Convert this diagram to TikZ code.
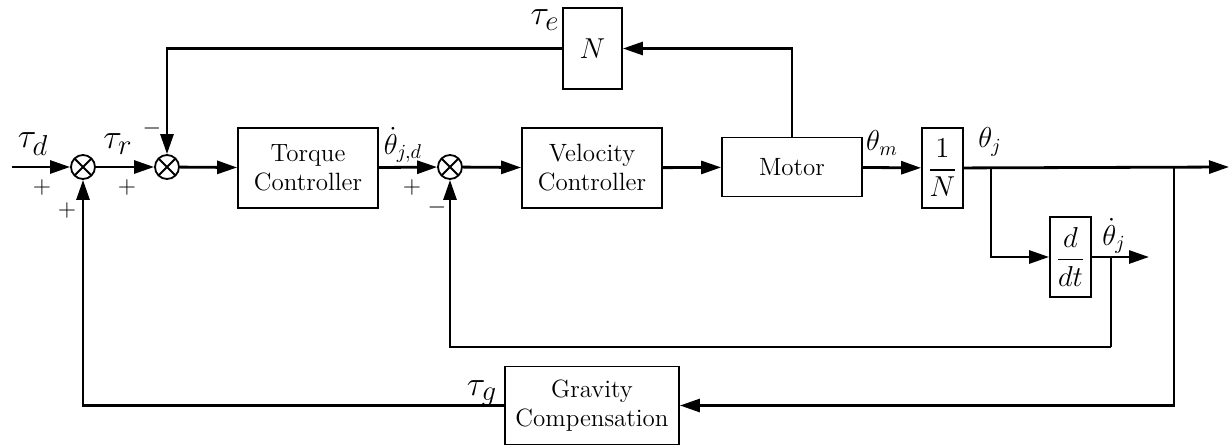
\documentclass[tikz,border=0pt]{standalone}
\usepackage{amsmath}
\usetikzlibrary{arrows.meta}

\tikzset{
  every node/.style={font=\fontsize{12.5}{14.5}\selectfont},
  block/.style={draw, line width=0.9pt, align=center, inner sep=0pt},
  mblock/.style={block, font=\fontsize{14.5}{16}\selectfont},
  sumnode/.style={draw, circle, line width=0.9pt, minimum size=12pt, inner sep=0pt,
    path picture={\draw[line width=0.9pt]
      (path picture bounding box.north west) -- (path picture bounding box.south east)
      (path picture bounding box.north east) -- (path picture bounding box.south west);}},
  sig/.style={line width=1.4pt, -{Triangle[length=10pt,width=6.5pt]}},
  wire/.style={line width=1.4pt},
  sgn/.style={inner sep=0pt, font=\fontsize{12}{14}\selectfont},
  tlbl/.style={inner sep=0pt, font=\fontsize{19}{21}\selectfont},
  hlbl/.style={inner sep=0pt, font=\fontsize{14}{16}\selectfont}
}

\begin{document}
\begin{tikzpicture}[x=0.5pt, y=-0.5pt]
  \useasboundingbox (0,0) rectangle (1231,445);

  % ===== forward path =====
  \coordinate (in) at (12,167);
  \node[sumnode] (s1) at (83,167) {};
  \node[sumnode] (s2) at (167,167) {};
  \node[block, minimum width=70pt, minimum height=40pt] (torque) at (308,168) {Torque\\Controller};
  \node[sumnode] (s3) at (450,167) {};
  \node[block, minimum width=70pt, minimum height=40pt] (vel) at (592,168) {Velocity\\Controller};
  \node[block, minimum width=70pt, minimum height=29.5pt] (motor) at (792,167) {Motor};
  \node[mblock, minimum width=20.5pt, minimum height=40pt] (gain) at (942.5,168) {$\dfrac{1}{N}$};
  \coordinate (out) at (1229,167);

  % ===== feedback blocks =====
  \node[mblock, minimum width=29.5pt, minimum height=40.5pt] (nblk) at (592.5,48.5) {$N$};
  \node[mblock, minimum width=20.5pt, minimum height=40pt] (ddt) at (1070.5,257) {$\dfrac{d}{dt}$};
  \node[block, minimum width=87pt, minimum height=39pt] (grav) at (592,405.5) {Gravity\\Compensation};

  % branch points
  \coordinate (b1) at (991,167);
  \coordinate (b2) at (1111,257);
  \coordinate (b3) at (1174,167);
  \coordinate (v1) at (1111,347);
  \coordinate (dout) at (1149,257);

  % ===== connectors =====
  \draw[sig] (in) -- (s1);
  \draw[sig] (s1) -- (s2);
  \draw[sig] (s2) -- (torque);
  \draw[sig] (torque) -- (s3);
  \draw[sig] (s3) -- (vel);
  \draw[sig] (vel) -- (motor);
  \draw[sig] (motor) -- (gain);
  \draw[sig] (gain) -- (out);
  \draw[sig] (motor.north) |- (nblk.east);
  \draw[sig] (nblk.west) -| (s2.north);
  \draw[sig] (b1) |- (ddt.west);
  \draw[sig] (ddt.east) -- (dout);
  \draw[wire] (b2) -- (v1);
  \draw[sig] (v1) -| (s3.south);
  \draw[sig] (b3) |- (grav.east);
  \draw[sig] (grav.west) -| (s1.south);

  % ===== signal labels =====
  \node[tlbl] (taud) at (33,144) {$\tau_d$};
  \node[tlbl] (taur) at (118,144) {$\tau_r$};
  \node[tlbl] (taue) at (545,20) {$\tau_e$};
  \node[tlbl] (taug) at (482,393) {$\tau_g$};
  \node[hlbl] (thjd) at (403,145) {$\dot\theta_{j,d}$};
  \node[hlbl] (thm) at (882,143) {$\theta_m$};
  \node[hlbl] (thj) at (990,142) {$\theta_j$};
  \node[hlbl] (thjdot) at (1114,236) {$\dot\theta_j$};

  % ===== signs =====
  \node[sgn] (p1) at (42,187) {$+$};
  \node[sgn] (p2) at (67,210) {$+$};
  \node[sgn] (p3) at (127,187) {$+$};
  \node[sgn] (m1) at (152,128) {$-$};
  \node[sgn] (p4) at (412,187) {$+$};
  \node[sgn] (m2) at (437,207) {$-$};
\end{tikzpicture}
\end{document}
